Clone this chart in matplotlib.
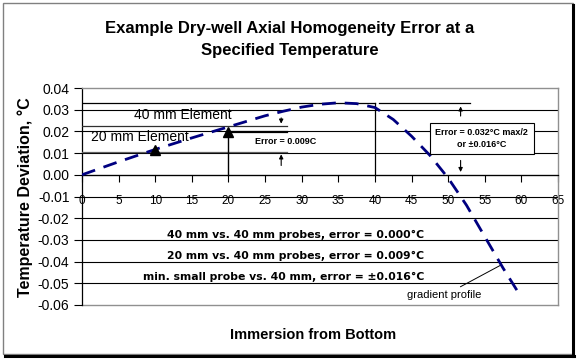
import matplotlib
matplotlib.use("Agg")
import matplotlib.pyplot as plt
from matplotlib.patches import Rectangle
from matplotlib.lines import Line2D
import numpy as np

plt.rcParams['font.family'] = ['Liberation Sans', 'DejaVu Sans']

# ---- data ----
depth = [0, 5, 10, 15, 20, 25, 27.5, 30, 32.5, 35, 37.5, 40, 42.5, 45, 47.5, 50, 52.5, 55, 57.5, 60]
deviation = [0.0, 0.0060, 0.0117, 0.0170, 0.0221, 0.0272, 0.0293, 0.0312, 0.0325, 0.0332,
             0.0328, 0.0310, 0.0255, 0.0178, 0.0090, -0.0015, -0.0140, -0.0285, -0.0430, -0.0565]

x_ticks = list(range(0, 70, 5))
y_ticks = [-0.06, -0.05, -0.04, -0.03, -0.02, -0.01, 0.00, 0.01, 0.02, 0.03, 0.04]

elem20_mean = 0.0107   # average of 20 mm element
elem40_mean = 0.0223   # average of 40 mm element
elem20_top = (20, 0.0198)
elem20_mid = (10, 0.0112)
max_dev = 0.033
max_depth = 40

summary_lines = ["40 mm vs. 40 mm probes, error = 0.000\u00b0C",
                 "20 mm vs. 40 mm probes, error = 0.009\u00b0C",
                 "min. small probe vs. 40 mm, error = \u00b10.016\u00b0C"]
summary_y = [-0.0275, -0.0375, -0.0470]

# ---- figure ----
W, H = 579, 359
fig = plt.figure(figsize=(W / 100, H / 100), dpi=100)
fig.patch.set_facecolor('white')

# chart border with shadow
fig.add_artist(Rectangle((3 / W, 1 - 354 / H), 570 / W, 351 / H, transform=fig.transFigure,
                         fill=False, edgecolor='#808080', lw=1.0))
fig.add_artist(Line2D([573 / W, 573 / W], [1 - 356 / H, 1 - 5 / H], transform=fig.transFigure,
                      color='black', lw=2.2))
fig.add_artist(Line2D([5 / W, 574 / W], [1 - 355.5 / H, 1 - 355.5 / H], transform=fig.transFigure,
                      color='black', lw=2.2))

ax = fig.add_axes([82 / W, 1 - 305 / H, (558 - 82) / W, (305 - 88) / H])
ax.set_xlim(0, 65)
ax.set_ylim(-0.06, 0.04)

# spines
ax.spines['left'].set_color('black')
ax.spines['left'].set_linewidth(0.9)
ax.spines['bottom'].set_position(('data', 0))
ax.spines['bottom'].set_color('black')
ax.spines['bottom'].set_linewidth(0.9)
for s in ['top', 'right']:
    ax.spines[s].set_color('#909090')
    ax.spines[s].set_linewidth(1.0)
ax.axhline(-0.06, color='#909090', lw=1.0, clip_on=False, zorder=1)

# gridlines
for yv in y_ticks[1:-1]:
    ax.axhline(yv, color='black', lw=0.8, zorder=1)

ax.set_xticks(x_ticks)
ax.set_xticklabels([str(v) for v in x_ticks])
ax.set_yticks(y_ticks)
ax.set_yticklabels([f"{v:.2f}".replace("-0.00", "0.00") for v in y_ticks])
ax.tick_params(axis='x', direction='out', length=5, width=0.8, pad=9.5, labelsize=8.5)
ax.tick_params(axis='y', direction='out', length=6, width=0.8, pad=3, labelsize=10)

# gradient profile
ax.plot(depth, deviation, color='#000080', lw=2.0, dashes=(5, 3.2), zorder=5)

# reference lines
ax.plot([0, max_depth], [max_dev, max_dev], color='black', lw=0.9, zorder=3)
ax.plot([40.6, 53], [max_dev, max_dev], color='black', lw=0.9, zorder=3)
ax.plot([max_depth, max_depth], [0, max_dev], color='black', lw=0.9, zorder=3)
ax.plot([0, 28], [elem40_mean, elem40_mean], color='#303030', lw=0.9, zorder=3)
ax.plot([0, 28], [elem20_mean, elem20_mean], color='#606060', lw=0.9, zorder=3)
ax.plot([elem20_top[0], elem20_top[0]], [0, elem20_top[1]], color='black', lw=1.0, zorder=3)
ax.plot([elem20_top[0], 28], [elem20_top[1], elem20_top[1]], color='black', lw=1.6, zorder=3)
ax.plot([elem20_mid[0], elem20_top[0]], [elem20_mid[1], elem20_top[1]], ls='none',
        marker='^', ms=7, color='black', zorder=6)

ax.text(13.7, 0.0276, "40 mm Element", fontsize=10, ha='center', va='center', zorder=4)
ax.text(7.9, 0.0172, "20 mm Element", fontsize=10, ha='center', va='center', zorder=4)

# error 0.009 arrows
arr = dict(arrowstyle='-|>', color='black', lw=0.8, mutation_scale=6)
ax.annotate("", xy=(27.2, 0.0223), xytext=(27.2, 0.0275), arrowprops=arr, zorder=4)
ax.annotate("", xy=(27.2, 0.0107), xytext=(27.2, 0.003), arrowprops=arr, zorder=4)
ax.text(27.8, 0.0153, "Error = 0.009C", fontsize=6.5, fontweight='bold',
        ha='center', va='center', zorder=4)

# error 0.032 arrows and box
ax.annotate("", xy=(51.7, 0.0328), xytext=(51.7, 0.0258), arrowprops=arr, zorder=4)
ax.annotate("", xy=(51.7, 0.0), xytext=(51.7, 0.0079), arrowprops=arr, zorder=4)
ax.text(54.6, 0.0168, "Error = 0.032\u00b0C max/2\nor \u00b10.016\u00b0C", fontsize=6.5,
        fontweight='bold', ha='center', va='center', linespacing=1.4, zorder=7,
        bbox=dict(boxstyle='square,pad=0.6', facecolor='white', edgecolor='black', lw=0.8))

# summary text
for txt, yv in zip(summary_lines, summary_y):
    ax.text(46.7, yv, txt, fontsize=7.8, fontweight='bold', ha='right', va='center', zorder=4,
            family=['DejaVu Sans'])

# gradient profile label
ax.annotate("gradient profile", xy=(57.2, -0.0416), xytext=(54.6, -0.0555),
            fontsize=8, ha='right', va='center',
            arrowprops=dict(arrowstyle='-', color='black', lw=0.7,
                            shrinkA=1, shrinkB=0), zorder=4)

# labels
fig.text(290 / W, 1 - 28 / H, "Example Dry-well Axial Homogeneity Error at a",
         fontsize=12, fontweight='bold', ha='center', va='center')
fig.text(290 / W, 1 - 50 / H, "Specified Temperature",
         fontsize=12, fontweight='bold', ha='center', va='center')
fig.text(313 / W, 1 - 335 / H, "Immersion from Bottom", fontsize=10.5, fontweight='bold',
         ha='center', va='center')
fig.text(25 / W, 1 - 197 / H, "Temperature Deviation, \u00b0C", fontsize=11.5, fontweight='bold',
         ha='center', va='center', rotation=90)

fig.savefig("out.png", dpi=100)
